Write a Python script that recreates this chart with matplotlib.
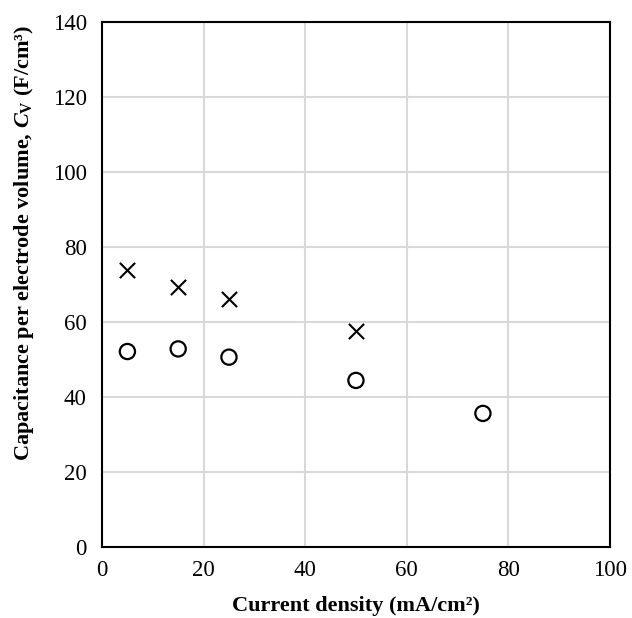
import matplotlib.pyplot as plt

plt.rcParams['font.family'] = ['Liberation Serif', 'DejaVu Serif']
plt.rcParams['mathtext.fontset'] = 'custom'
plt.rcParams['mathtext.rm'] = 'Liberation Serif:bold'
plt.rcParams['mathtext.it'] = 'Liberation Serif:italic:bold'
plt.rcParams['mathtext.bf'] = 'Liberation Serif:bold'

# data
x_cross = [5, 15, 25, 50]
y_cross = [73.9, 69.5, 66.1, 57.8]
x_circle = [5, 15, 25, 50, 75]
y_circle = [52.2, 52.9, 50.7, 44.5, 35.7]

xticks = [0, 20, 40, 60, 80, 100]
yticks = [0, 20, 40, 60, 80, 100, 120, 140]

fig = plt.figure(figsize=(6.32, 6.18), dpi=100)
ax = fig.add_axes([0.1614, 0.1144, 0.8036, 0.8496])

ax.scatter(x_cross, y_cross, marker='x', s=120, color='black', linewidths=1.5, zorder=3)
ax.scatter(x_circle, y_circle, marker='o', s=120, facecolors='none', edgecolors='black',
           linewidths=1.6, zorder=3)

ax.set_xlim(0, 100)
ax.set_ylim(0, 140)
ax.set_xticks(xticks)
ax.set_yticks(yticks)
ax.grid(True, color='#d9d9d9', linewidth=1.5)
ax.set_axisbelow(True)
ax.tick_params(length=0, labelsize=16.5)
ax.tick_params(axis='y', pad=11)
ax.tick_params(axis='x', pad=9)
for s in ax.spines.values():
    s.set_color('black')
    s.set_linewidth(1.5)

ax.set_xlabel('Current density (mA/cm²)', fontsize=16, fontweight='bold', labelpad=11)
ax.set_ylabel(r'Capacitance per electrode volume, $C_{\rm V}$ (F/cm³)', fontsize=16,
              fontweight='bold', labelpad=12)
ax.yaxis.label.set_y(0.58)

fig.savefig('out.png', dpi=100)
